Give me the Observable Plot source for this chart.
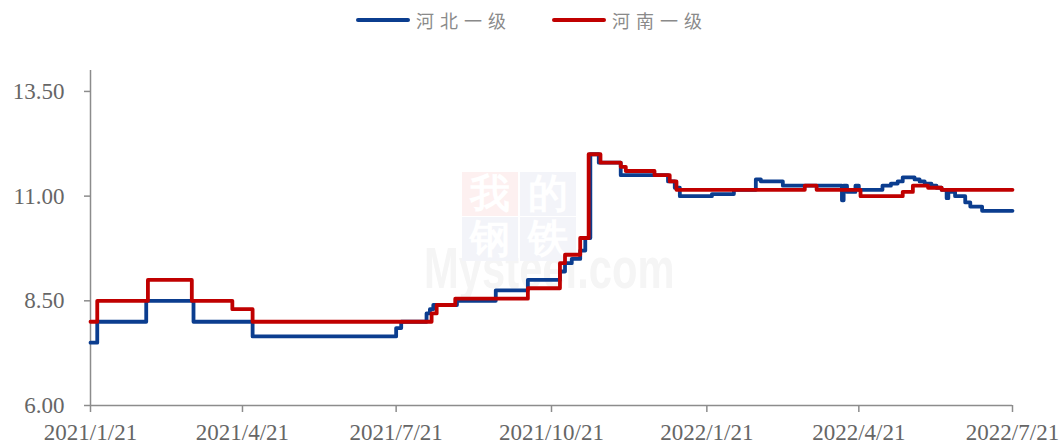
<!DOCTYPE html>
<html>
<head>
<meta charset="utf-8">
<script src="https://cdn.jsdelivr.net/npm/d3@7"></script>
<script src="https://cdn.jsdelivr.net/npm/@observablehq/plot@0.6"></script>
<style>
  html, body { margin: 0; padding: 0; background: #ffffff; }
  #wrap { position: relative; width: 1064px; height: 448px; overflow: hidden; }
  #legend { position: relative; z-index: 2; height: 40px; display: flex; justify-content: center; align-items: center; font-family: "Noto Sans CJK SC", sans-serif; font-size: 18px; color: #8a8a8a; }
  .item { display: flex; align-items: center; }
  .item + .item { margin-left: 40px; }
  .swatch { width: 54px; height: 4px; border-radius: 2px; margin-right: 6px; }
  .lab { letter-spacing: 6px; }
  #wm { position: absolute; left: 0; top: 0; width: 1064px; height: 448px; z-index: 0; }
  .box { position: absolute; width: 56px; height: 44px; font-family: "Liberation Serif", serif; font-size: 40px; line-height: 44px; text-align: center; color: #ffffff; font-weight: bold; }
  #mys { position: absolute; left: 424px; top: 234px; font-family: "Liberation Sans", sans-serif; font-weight: bold; font-size: 58px; color: #f5f5f5; transform-origin: 0 0; transform: scaleX(0.72); white-space: nowrap; }
  #chart { position: relative; z-index: 1; }
</style>
</head>
<body>
<div id="wrap">
  <div id="wm">
    <div id="mys">Mysteel.com</div>
    <div class="box" style="left:462px;top:172px;background:#fdf0f0;">我</div>
    <div class="box" style="left:520px;top:172px;background:#f3f4f9;">的</div>
    <div class="box" style="left:462px;top:217px;background:#f3f4f9;">钢</div>
    <div class="box" style="left:520px;top:217px;background:#f3f4f9;">铁</div>
  </div>
  <div id="legend"></div>
  <div id="chart"></div>
</div>
<script>
// ---- data ----
const seriesNames = ["河北一级", "河南一级"];
const seriesColors = ["#0b3d8f", "#c00000"];

const hebeiDates = [
  "2021-01-21","2021-01-25","2021-02-23","2021-03-23","2021-04-27","2021-07-21","2021-07-24",
  "2021-08-08","2021-08-10","2021-08-12","2021-08-26","2021-09-18","2021-10-07","2021-10-26",
  "2021-10-29","2021-11-02","2021-11-07","2021-11-10","2021-11-13","2021-11-18","2021-12-01",
  "2021-12-29","2022-01-02","2022-01-05","2022-01-24","2022-02-06","2022-02-19","2022-02-22",
  "2022-03-07","2022-04-11","2022-04-12","2022-04-14","2022-04-19","2022-04-21","2022-05-05",
  "2022-05-10","2022-05-14","2022-05-17","2022-05-24","2022-05-27","2022-05-30","2022-06-03",
  "2022-06-06","2022-06-09","2022-06-12","2022-06-13","2022-06-17","2022-06-23","2022-06-26",
  "2022-07-03","2022-07-21"
];
const hebeiValues = [
  7.5, 8.0, 8.5, 8.0, 7.65, 7.85, 8.0,
  8.2, 8.3, 8.4, 8.5, 8.75, 9.0, 9.2,
  9.4, 9.5, 9.7, 10.0, 12.0, 11.8, 11.5,
  11.35, 11.2, 11.0, 11.05, 11.15, 11.4, 11.35,
  11.25, 10.9, 11.25, 11.1, 11.25, 11.15, 11.25,
  11.3, 11.35, 11.45, 11.4, 11.35, 11.3, 11.25,
  11.2, 11.15, 10.95, 11.1, 11.0, 10.85, 10.75,
  10.65, 10.65
];

const henanDates = [
  "2021-01-21","2021-01-25","2021-02-24","2021-03-22","2021-04-15","2021-04-27","2021-08-11",
  "2021-08-14","2021-08-25","2021-10-07","2021-10-26","2021-10-29","2021-11-07","2021-11-12",
  "2021-11-19","2021-12-01","2021-12-04","2021-12-21","2021-12-30","2022-01-03","2022-03-20",
  "2022-03-27","2022-04-22","2022-05-17","2022-05-23","2022-06-01","2022-06-09","2022-07-21"
];
const henanValues = [
  8.0, 8.5, 9.0, 8.5, 8.3, 8.0, 8.2,
  8.4, 8.55, 8.8, 9.4, 9.6, 10.0, 12.0,
  11.8, 11.7, 11.6, 11.5, 11.35, 11.15, 11.25,
  11.15, 11.0, 11.1, 11.25, 11.2, 11.15, 11.15
];

const xTickLabels = ["2021-01-21","2021-04-21","2021-07-21","2021-10-21","2022-01-21","2022-04-21","2022-07-21"];
const yTicks = [6.0, 8.5, 11.0, 13.5];
const yDomain = [6, 14];

// ---- build ----
const hebei = hebeiDates.map((d, i) => ({date: new Date(d), value: hebeiValues[i], series: seriesNames[0]}));
const henan = henanDates.map((d, i) => ({date: new Date(d), value: henanValues[i], series: seriesNames[1]}));
const xTicks = xTickLabels.map(d => new Date(d));
const fmtDate = d => `${d.getUTCFullYear()}/${d.getUTCMonth() + 1}/${d.getUTCDate()}`;

// legend
const legend = document.getElementById("legend");
seriesNames.forEach((name, i) => {
  const it = document.createElement("div");
  it.className = "item";
  const sw = document.createElement("span");
  sw.className = "swatch";
  sw.style.background = seriesColors[i];
  const lb = document.createElement("span");
  lb.className = "lab";
  lb.textContent = name;
  it.appendChild(sw); it.appendChild(lb);
  legend.appendChild(it);
});

const axisColor = "#8c8c8c";
const chart = Plot.plot({
  width: 1064,
  height: 408,
  marginLeft: 90,
  marginRight: 52,
  marginTop: 30,
  marginBottom: 43,
  style: {fontFamily: "'Liberation Serif', 'Times New Roman', serif", fontSize: "23px", color: "#666666", background: "transparent", overflow: "visible"},
  x: {type: "utc", domain: [xTicks[0], xTicks[xTicks.length - 1]]},
  y: {domain: yDomain},
  marks: [
    Plot.axisX({ticks: xTicks, tickFormat: fmtDate, tickSize: 7, tickPadding: 11, stroke: axisColor, strokeWidth: 1.5, fill: "#666666", label: null}),
    Plot.axisY({ticks: yTicks, tickFormat: d => d.toFixed(2), tickSize: 6, tickPadding: 20, stroke: axisColor, strokeWidth: 1.5, fill: "#666666", label: null}),
    Plot.ruleY([yDomain[0]], {stroke: axisColor, strokeWidth: 1.5}),
    Plot.ruleX([xTicks[0]], {stroke: axisColor, strokeWidth: 1.5}),
    Plot.line(hebei, {x: "date", y: "value", curve: "step-after", stroke: seriesColors[0], strokeWidth: 3.8, strokeLinejoin: "round"}),
    Plot.line(henan, {x: "date", y: "value", curve: "step-after", stroke: seriesColors[1], strokeWidth: 3.8, strokeLinejoin: "round"})
  ]
});
document.getElementById("chart").appendChild(chart);
</script>
</body>
</html>
